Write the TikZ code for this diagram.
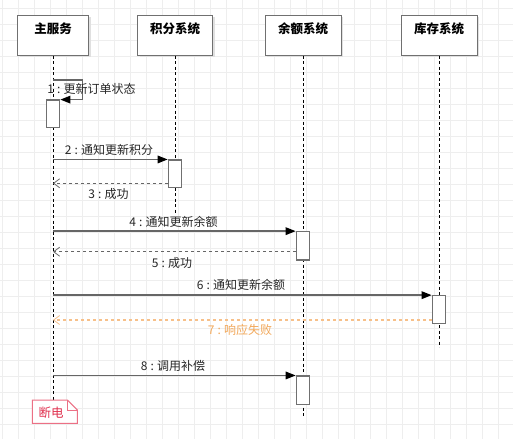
\documentclass[tikz,border=0pt]{standalone}
\usepackage{fontspec}
\setmainfont{Noto Sans CJK SC}
\usetikzlibrary{arrows.meta}
\definecolor{gridc}{HTML}{EEEEEE}
\definecolor{lineg}{HTML}{666666}
\definecolor{boxg}{HTML}{707070}
\definecolor{orangel}{HTML}{F7C08A}
\definecolor{oranget}{HTML}{F2A85A}
\definecolor{noter}{HTML}{EC7085}
\definecolor{notet}{HTML}{E0304E}
\newcommand{\msep}{\hspace{3.2pt}:\hspace{3.2pt}}
\tikzset{
  hdr/.style={draw=boxg, line width=1pt, fill=white, rectangle, minimum height=40pt, inner sep=0pt},
  hdrtxt/.style={font=\fontsize{12.5}{14}\selectfont\bfseries, inner sep=0pt},
  life/.style={draw=black, line width=0.8pt, dash pattern=on 3pt off 2.5pt},
  act/.style={draw=boxg, line width=1.1pt, fill=white, rectangle, minimum width=13.5pt, inner sep=0pt},
  msg/.style={draw=lineg, line width=1.5pt, -{Triangle[length=10pt,width=7.5pt,color=black,fill=black]}},
  ret/.style={draw=lineg, line width=1.2pt, dash pattern=on 3pt off 3pt, -{Straight Barb[length=6pt,width=9pt,line width=0.8pt]}},
  lbl/.style={font=\fontsize{12}{14}\selectfont, text=black!85, inner sep=0pt},
}
\begin{document}
\begin{tikzpicture}[x=1pt,y=-1pt]
\useasboundingbox (0,0) rectangle (513,439);
\fill[white] (0,0) rectangle (513,439);
\foreach \x in {2,18,...,514} \draw[gridc, line width=0.7pt] (\x,0) -- (\x,439);
\foreach \y in {8,24,...,439} \draw[gridc, line width=0.7pt] (0,\y) -- (513,\y);

% header boxes with light shadow
\foreach \cx/\w in {53/71,175/75,303/76,439/76}
  \fill[black!12] (\cx-\w/2+2,17) rectangle (\cx+\w/2+2,57);
\node[hdr, minimum width=71pt] (b1) at (53,35) {};
\node[hdr, minimum width=75pt] (b2) at (175,35) {};
\node[hdr, minimum width=76pt] (b3) at (303,35) {};
\node[hdr, minimum width=76pt] (b4) at (439,35) {};
\node[hdrtxt] (t1) at (53,29) {主服务};
\node[hdrtxt] (t2) at (175,29) {积分系统};
\node[hdrtxt] (t3) at (303,29) {余额系统};
\node[hdrtxt] (t4) at (439,29) {库存系统};

% lifelines
\coordinate (e1) at (53,400);
\coordinate (e2) at (175,213);
\coordinate (e3) at (303,416);
\coordinate (e4) at (439,347);
\draw[life] (b1.south) -- (e1);
\draw[life] (b2.south) -- (e2);
\draw[life] (b3.south) -- (e3);
\draw[life] (b4.south) -- (e4);

% activations
\node[act, minimum height=27.7pt] (a0) at (53,113.85) {};
\node[act, minimum height=27.7pt] (a1) at (175,173.85) {};
\node[act, minimum height=28.3pt] (a2) at (303,245.85) {};
\node[act, minimum height=27.6pt] (a3) at (439,309.5) {};
\node[act, minimum height=28.3pt] (a4) at (303,390.15) {};

% 1 self message
\coordinate (s1) at (53,80);
\coordinate (s2) at (82.7,80);
\coordinate (s3) at (82.7,99.6);
\draw[msg] (s1) -- (s2) -- (s3) -- (s3 -| a0.east);
\node[lbl] (m1) at (91.5,89) {1\msep 更新订单状态};

% 2
\draw[msg] (b1.south |- a1.north west) -- (a1.north west);
\node[lbl] (m2) at (109,150) {2\msep 通知更新积分};
% 3
\coordinate (r3) at (168,183.3);
\draw[ret] (r3) -- (b1.south |- r3);
\node[lbl] (m3) at (108.5,194) {3\msep 成功};
% 4
\draw[msg] (b1.south |- a2.north west) -- (a2.north west);
\node[lbl] (m4) at (173.5,221.7) {4\msep 通知更新余额};
% 5
\coordinate (r5) at (296,251.7);
\draw[ret] (r5) -- (b1.south |- r5);
\node[lbl] (m5) at (172,262.7) {5\msep 成功};
% 6
\draw[msg] (b1.south |- a3.north west) -- (a3.north west);
\node[lbl] (m6) at (241,285) {6\msep 通知更新余额};
% 7
\coordinate (r7) at (432,320);
\draw[ret, draw=orangel] (r7) -- (b1.south |- r7);
\node[lbl, text=oranget] (m7) at (240,330) {7\msep 响应失败};
% 8
\draw[msg] (b1.south |- a4.north west) -- (a4.north west);
\node[lbl] (m8) at (173,366) {8\msep 调用补偿};

% note
\draw[noter, line width=1pt, fill=white] (32.3,400) -- (67.3,400) -- (77.3,410) -- (77.3,423.3) -- (32.3,423.3) -- cycle;
\draw[noter, line width=0.8pt] (67.3,400) -- (67.3,410) -- (77.3,410);
\node[lbl, text=notet, font=\fontsize{12.5}{14}\selectfont] (n1) at (51,412.5) {断电};
\end{tikzpicture}
\end{document}
